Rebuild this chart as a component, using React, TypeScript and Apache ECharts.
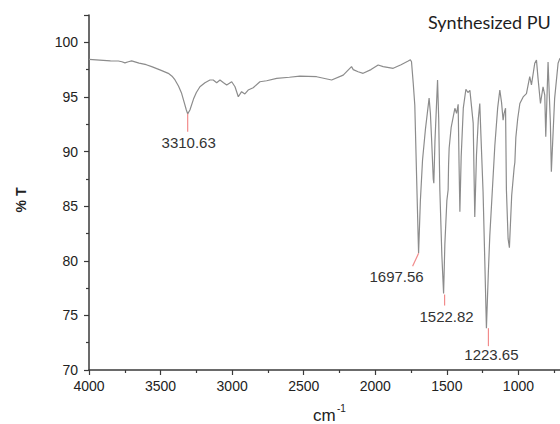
import React, { useEffect, useRef } from "react";
import * as echarts from "echarts";

// FTIR spectrum of synthesized PU (wavenumber cm^-1, % transmittance)
const wavenumbers = [
  4000, 3900, 3850, 3795, 3770, 3749, 3725, 3702, 3650, 3600, 3562, 3500, 3446, 3420, 3399, 3375,
  3353, 3335, 3320, 3310.63, 3295, 3270, 3250, 3225, 3190, 3155, 3132, 3108, 3085, 3060, 3038, 3003,
  2980, 2957, 2934, 2911, 2888, 2853, 2806, 2759, 2689, 2600, 2527, 2410, 2305, 2224, 2166, 2154,
  2120, 2085, 2030, 1980, 1945, 1875, 1820, 1770, 1755, 1747, 1735, 1724, 1712, 1697.56, 1685, 1670,
  1650, 1624, 1615, 1607, 1595, 1591, 1583, 1565, 1557, 1549, 1535, 1522.82, 1514, 1500, 1491, 1488,
  1484, 1470, 1444, 1432, 1421, 1415, 1409, 1400, 1385, 1367, 1353, 1339, 1316, 1305, 1293, 1280,
  1270, 1262, 1247, 1235, 1223.65, 1210, 1200, 1188, 1165, 1145, 1130, 1118, 1107, 1100, 1090, 1084,
  1072, 1063, 1047, 1030, 1025, 1018, 1005, 990, 967, 944, 921, 909, 886, 874, 863, 846,
  828, 816, 809, 793, 777, 770, 747, 723, 711, 700,
];
const transmittance = [
  98.44, 98.35, 98.3, 98.29, 98.22, 98.12, 98.22, 98.3, 98.1, 97.95, 97.77, 97.45, 97.16, 96.9, 96.55, 96.0,
  95.33, 94.5, 93.8, 93.45, 93.8, 94.8, 95.4, 95.93, 96.3, 96.55, 96.55, 96.3, 96.55, 96.3, 96.09, 96.39,
  95.93, 95.02, 95.48, 95.27, 95.63, 95.84, 96.39, 96.48, 96.7, 96.8, 96.91, 96.85, 96.55, 97.0, 97.77, 97.5,
  97.3, 97.16, 97.5, 97.92, 97.77, 97.62, 97.95, 98.29, 98.4, 98.22, 96.27, 94.26, 88.0, 80.68, 85.5, 89.2,
  92.0, 94.9, 93.5, 91.24, 87.5, 87.1, 91.0, 96.55, 93.0, 86.5, 80.5, 77.0, 81.5, 85.5, 86.5, 88.8,
  90.3, 92.2, 93.96, 93.5, 94.32, 89.0, 84.5, 89.5, 94.0, 95.7, 95.4, 95.6, 92.6, 84.0, 89.7, 93.0,
  94.4, 91.5, 86.3, 80.0, 73.83, 79.0, 82.3, 85.1, 90.5, 94.0, 95.63, 94.5, 92.88, 93.5, 93.96, 86.5,
  82.0, 81.2, 86.0, 88.5, 89.0, 91.3, 93.0, 94.4, 95.0, 95.3, 96.85, 96.1, 98.08, 98.38, 96.7, 94.4,
  95.93, 95.17, 91.35, 98.2, 92.7, 88.15, 94.87, 98.08, 98.5, 98.6,
];

// Labelled peaks
const peakWavenumbers = [3310.63, 1697.56, 1522.82, 1223.65];
const peakTransmittance = [93.45, 80.68, 77.0, 73.83];
const peakLabels = ["3310.63", "1697.56", "1522.82", "1223.65"];

const titleText = "Synthesized PU";
const yAxisTitle = "% T";

// leader line [x1, y1, x2, y2] and label centre [x, y], in px relative to the peak tip
const annotationLayout = [
  { line: [0, 0, 0, 18], text: [1, 29] },
  { line: [0, 0, -6, 13], text: [-22, 23] },
  { line: [1, 1, 1, 12], text: [3, 23] },
  { line: [2, 0, 2, 18], text: [5, 26] },
];

const FONT = "Liberation Sans";

export default function App() {
  const ref = useRef<HTMLDivElement>(null);
  useEffect(() => {
    if (!ref.current) return;
    const chart = echarts.init(ref.current, null, { renderer: "svg" });
    const spectrum = wavenumbers.map((w, i) => [w, transmittance[i]]);
    const peaks = peakWavenumbers.map((w, i) => [w, peakTransmittance[i]]);
    chart.setOption({
      animation: false,
      backgroundColor: "#ffffff",
      grid: { left: 89, right: 30, top: 15, bottom: 54 },
      xAxis: {
        type: "value",
        inverse: true,
        min: 500,
        max: 4000,
        interval: 500,
        axisLine: { show: true, onZero: false, lineStyle: { color: "#3a3a3a", width: 1.5 } },
        axisTick: { show: true, inside: false, length: 5, lineStyle: { color: "#3a3a3a", width: 1.2 } },
        minorTick: { show: true, splitNumber: 2, length: 3, lineStyle: { color: "#3a3a3a", width: 1.2 } },
        splitLine: { show: false },
        axisLabel: {
          color: "#222",
          fontSize: 14,
          fontFamily: FONT,
          margin: 9,
          formatter: (v: number) => (v >= 1000 ? String(v) : ""),
        },
      },
      yAxis: {
        type: "value",
        min: 70,
        max: 102.5,
        interval: 5,
        axisLine: { show: true, onZero: false, lineStyle: { color: "#3a3a3a", width: 1.5 } },
        axisTick: { show: true, inside: false, length: 5, lineStyle: { color: "#3a3a3a", width: 1.2 } },
        minorTick: { show: true, splitNumber: 2, length: 3, lineStyle: { color: "#3a3a3a", width: 1.2 } },
        splitLine: { show: false },
        axisLabel: {
          color: "#222",
          fontSize: 14,
          fontFamily: FONT,
          margin: 11,
          formatter: (v: number) => (v % 5 === 0 ? String(v) : ""),
        },
      },
      series: [
        {
          type: "line",
          data: spectrum,
          showSymbol: false,
          symbol: "none",
          lineStyle: { color: "#8c8c8c", width: 1.2 },
          silent: true,
        },
        {
          type: "custom",
          data: peaks,
          silent: true,
          z: 5,
          renderItem: (params: any, api: any) => {
            const i = params.dataIndex;
            const p = api.coord([api.value(0), api.value(1)]);
            const lay = annotationLayout[i];
            return {
              type: "group",
              children: [
                {
                  type: "line",
                  shape: {
                    x1: p[0] + lay.line[0],
                    y1: p[1] + lay.line[1],
                    x2: p[0] + lay.line[2],
                    y2: p[1] + lay.line[3],
                  },
                  style: { stroke: "#f28b8b", lineWidth: 1.2 },
                },
                {
                  type: "text",
                  x: p[0] + lay.text[0],
                  y: p[1] + lay.text[1],
                  style: {
                    text: peakLabels[i],
                    fontSize: 15,
                    fontFamily: FONT,
                    fill: "#333",
                    align: "center",
                    verticalAlign: "middle",
                  },
                },
              ],
            };
          },
        },
      ],
      graphic: [
        {
          type: "text",
          left: 428,
          top: 13,
          style: { text: titleText, fontSize: 18, fontFamily: "Lato", fill: "#1e1e1e" },
        },
        {
          type: "text",
          x: 21,
          y: 200,
          rotation: Math.PI / 2,
          style: {
            text: yAxisTitle,
            fontSize: 14,
            fontWeight: "bold",
            fontFamily: FONT,
            fill: "#222",
            align: "center",
            verticalAlign: "middle",
          },
        },
        {
          type: "text",
          left: 313,
          top: 407,
          style: { text: "cm", fontSize: 17, fontFamily: FONT, fill: "#222" },
        },
        {
          type: "text",
          left: 337,
          top: 403,
          style: { text: "-1", fontSize: 10, fontFamily: FONT, fill: "#222" },
        },
      ],
    });
    return () => chart.dispose();
  }, []);

  return (
    <div style={{ position: "fixed", left: 0, top: 0, width: 560, height: 424, overflow: "hidden", background: "#fff" }}>
      <div ref={ref} style={{ position: "absolute", left: 0, top: 0, width: 620, height: 424 }} />
    </div>
  );
}
